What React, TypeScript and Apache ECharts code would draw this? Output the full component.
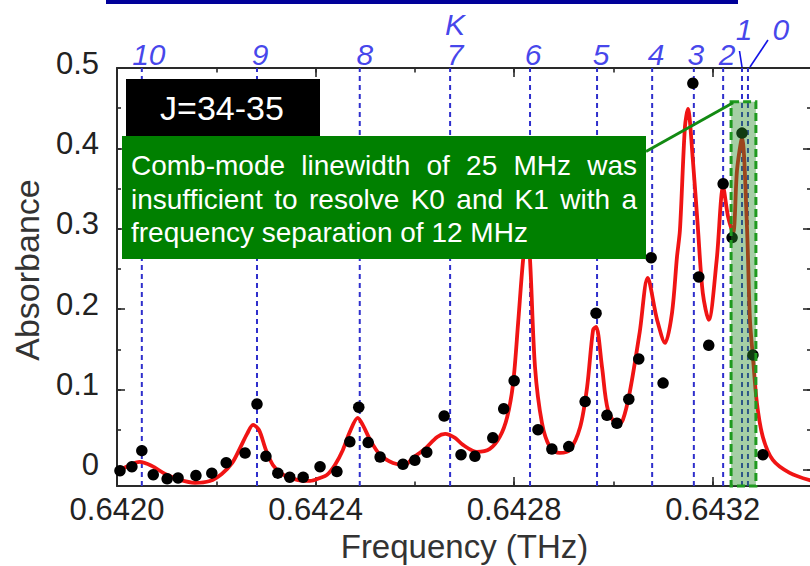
import React, { useEffect, useRef } from "react";
import * as echarts from "echarts";

const FONT = '"Liberation Sans", Arial, Helvetica, sans-serif';

// ---- axis ranges ----
const xMin = 0.642;
const xMax = 0.6434;
const xMajorStep = 0.0004;
const xMinorStep = 0.0002;
const yMin = -0.02;
const yMax = 0.5;

// ---- texts ----
const xAxisTitle = "Frequency (THz)";
const yAxisTitle = "Absorbance";
const panelTitle = "J=34-35";
const kHeader = "K";
const noteLines = [
  "Comb-mode linewidth of 25 MHz was",
  "insufficient to resolve K0 and K1 with a",
  "frequency separation of 12 MHz",
];

// ---- K components (line positions, THz) ----
const kLabels = ["10", "9", "8", "7", "6", "5", "4", "3", "2", "1", "0"];
const kFreqs = [
  0.64205, 0.642282, 0.642489, 0.642671, 0.642832, 0.642967, 0.643078,
  0.643162, 0.643221, 0.643259, 0.643271,
];

// ---- measured points ----
const dotFreqs = [
  0.642006, 0.64203, 0.64205, 0.642073, 0.642101, 0.642123, 0.642159,
  0.642191, 0.64222, 0.642258, 0.642282, 0.6423, 0.642324, 0.642348,
  0.642375, 0.642409, 0.642443, 0.642469, 0.642487, 0.642506, 0.64253,
  0.642576, 0.6426, 0.642624, 0.642659, 0.642693, 0.642721, 0.642757,
  0.642779, 0.6428, 0.642826, 0.642848, 0.642876, 0.64291, 0.642943,
  0.642965, 0.642987, 0.643007, 0.643031, 0.643051, 0.643076, 0.6431,
  0.64316, 0.643172, 0.643192, 0.643221, 0.643239, 0.643259, 0.643281,
  0.643301,
];
const dotAbs = [
  -0.001, 0.004, 0.024, -0.006, -0.011, -0.01, -0.007, -0.004, 0.009, 0.021,
  0.082, 0.017, -0.004, -0.009, -0.009, 0.004, -0.002, 0.035, 0.078, 0.034,
  0.016, 0.007, 0.012, 0.022, 0.067, 0.019, 0.017, 0.04, 0.076, 0.111, 0.283,
  0.05, 0.026, 0.029, 0.085, 0.195, 0.068, 0.058, 0.088, 0.138, 0.264, 0.108,
  0.481, 0.24, 0.155, 0.356, 0.289, 0.419, 0.143, 0.019,
];

// ---- fitted curve ----
const fitFreqs = [
  0.642, 0.642022, 0.642046, 0.64207, 0.642097, 0.642127, 0.642157, 0.642187,
  0.642211, 0.642232, 0.642248, 0.642262, 0.642274, 0.642286, 0.6423,
  0.642314, 0.642332, 0.642363, 0.642389, 0.642409, 0.642423, 0.642439,
  0.642455, 0.642469, 0.642485, 0.642495, 0.64251, 0.64253, 0.642556, 0.64258,
  0.642596, 0.64262, 0.642645, 0.642661, 0.642681, 0.642697, 0.642725,
  0.642751, 0.642771, 0.642786, 0.642798, 0.642808, 0.642818, 0.642826,
  0.642832, 0.642842, 0.642856, 0.642872, 0.642892, 0.642912, 0.642933,
  0.642947, 0.642959, 0.642965, 0.642977, 0.642989, 0.643009, 0.643019,
  0.643033, 0.643053, 0.643069, 0.643088, 0.643104, 0.643118, 0.643128,
  0.643134, 0.643144, 0.64315, 0.64316, 0.64317, 0.64318, 0.643192, 0.643208,
  0.643221, 0.643231, 0.643241, 0.643249, 0.643259, 0.643269, 0.643275,
  0.643281, 0.643289, 0.643301, 0.643321, 0.643355, 0.6434,
];
const fitAbs = [
  -0.0025, 0.005, 0.01, 0.005, -0.005, -0.0124, -0.016, -0.0137, -0.005,
  0.0087, 0.0274, 0.0448, 0.056, 0.0498, 0.0249, 0.0062, -0.005, -0.0124,
  -0.0137, -0.01, -0.0062, 0.0062, 0.0249, 0.0473, 0.0647, 0.056, 0.0373,
  0.0187, 0.0087, 0.0062, 0.0149, 0.0261, 0.041, 0.0448, 0.0398, 0.0311,
  0.0224, 0.0261, 0.041, 0.0659, 0.1082, 0.1828, 0.2612, 0.2998, 0.2612,
  0.1281, 0.0585, 0.0286, 0.0211, 0.0249, 0.0535, 0.1032, 0.1741, 0.1779,
  0.1281, 0.0746, 0.056, 0.0622, 0.097, 0.1716, 0.2388, 0.1866, 0.158,
  0.1953, 0.2649, 0.2985, 0.4266, 0.449, 0.3856, 0.3022, 0.2201, 0.1866,
  0.2612, 0.352, 0.3147, 0.2948, 0.3731, 0.4129, 0.3022, 0.1866, 0.1405,
  0.0833, 0.041, 0.0124, -0.0037, -0.0137,
];

// ---- highlighted unresolved K0/K1 region ----
const highlightFreqs = [0.643237, 0.643287];
const highlightAbs = [0.458, -0.021];

// ---- styles / layout (not data) ----
const CHART_W = 830;
const CHART_H = 566;
const GRID = { left: 117, top: 68, right: 18, bottom: 80 };
const kLabelOffsets: [number, number][] = [
  [7, -14], [3, -14], [5, -14], [5, -14], [3, -14], [4, -14], [4, -14],
  [2, -14], [4, -14], [2, -39], [33, -39],
];
const kHeaderOffset: [number, number] = [5, -44];
const leaderLines: { k: number; from: [number, number]; to: [number, number] }[] = [
  { k: 9, from: [0, -1], to: [-2.5, -17] },
  { k: 10, from: [2, -1], to: [20, -28] },
];
const BLUE = "#1414e6";
const DASH_BLUE = "#2f2fcc";
const AXIS_COLOR = "#2a2a2a";

export default function App() {
  const ref = useRef<HTMLDivElement>(null);

  useEffect(() => {
    if (!ref.current) return;
    const chart = echarts.init(ref.current, null, { renderer: "svg" });

    const tickStyle = { color: AXIS_COLOR, width: 1.6 };
    const lineStyle = { color: AXIS_COLOR, width: 2 };
    const baseX = {
      type: "value" as const,
      min: xMin,
      max: xMax,
      splitLine: { show: false },
    };
    const baseY = {
      type: "value" as const,
      min: yMin,
      max: yMax,
      splitLine: { show: false },
    };

    const labelData = kFreqs.map((f, i) => ({
      name: kLabels[i],
      value: [f, yMax],
      label: { offset: kLabelOffsets[i] },
    }));
    labelData.push({
      name: kHeader,
      value: [kFreqs[3], yMax],
      label: { offset: kHeaderOffset },
    });

    // vertical K guide lines: one segment per K, separated by gaps
    const kLineData: any[] = [];
    kFreqs.forEach((f) => {
      kLineData.push([f, yMin], [f, yMax], [f, "-"]);
    });

    const option: any = {
      animation: false,
      backgroundColor: "#ffffff",
      grid: [
        { ...GRID, containLabel: false, outerBoundsMode: "none" },
        { ...GRID, containLabel: false, outerBoundsMode: "none" },
      ],
      xAxis: [
        {
          ...baseX,
          gridIndex: 0,
          position: "bottom",
          interval: xMajorStep,
          axisLine: { show: true, onZero: false, lineStyle },
          axisTick: { show: true, inside: true, length: 9, lineStyle: tickStyle },
          axisLabel: {
            show: true,
            margin: 8,
            fontSize: 31,
            fontFamily: FONT,
            color: "#222",
            showMinLabel: true,
            showMaxLabel: false,
            formatter: (v: number) => v.toFixed(4),
          },
          name: xAxisTitle,
          nameLocation: "middle",
          nameGap: 44,
          nameTextStyle: { fontSize: 33, fontFamily: FONT, color: "#333" },
        },
        {
          ...baseX,
          gridIndex: 0,
          position: "top",
          interval: xMajorStep,
          axisLine: { show: true, onZero: false, lineStyle },
          axisTick: { show: true, inside: true, length: 9, lineStyle: tickStyle },
          axisLabel: { show: false },
        },
        {
          ...baseX,
          gridIndex: 1,
          position: "bottom",
          interval: xMinorStep,
          axisLine: { show: false, onZero: false },
          axisTick: { show: true, inside: true, length: 4.5, lineStyle: tickStyle },
          axisLabel: { show: false },
        },
        {
          ...baseX,
          gridIndex: 1,
          position: "top",
          interval: xMinorStep,
          axisLine: { show: false, onZero: false },
          axisTick: { show: true, inside: true, length: 4.5, lineStyle: tickStyle },
          axisLabel: { show: false },
        },
      ],
      yAxis: [
        {
          ...baseY,
          gridIndex: 0,
          position: "left",
          splitNumber: 5,
          axisLine: { show: true, onZero: false, lineStyle },
          axisTick: { show: true, inside: true, length: 8, lineStyle: tickStyle },
          axisLabel: {
            show: true,
            margin: 18,
            fontSize: 31,
            fontFamily: FONT,
            color: "#222",
            showMinLabel: false,
            showMaxLabel: true,
            verticalAlign: "bottom",
            lineHeight: 10,
            formatter: (v: number) => (Math.abs(v) < 1e-9 ? "0" : v.toFixed(1)),
          },
          name: yAxisTitle,
          nameLocation: "middle",
          nameGap: 73,
          nameTextStyle: {
            fontSize: 34,
            fontFamily: FONT,
            color: "#333",
            padding: [0, 0, 0, 14],
          },
        },
        {
          ...baseY,
          gridIndex: 0,
          position: "right",
          splitNumber: 5,
          axisLine: { show: true, onZero: false, lineStyle },
          axisTick: { show: true, inside: true, length: 9, lineStyle: tickStyle },
          axisLabel: { show: false },
        },
        {
          ...baseY,
          gridIndex: 1,
          position: "left",
          splitNumber: 10,
          axisLine: { show: false, onZero: false },
          axisTick: { show: true, inside: true, length: 4, lineStyle: tickStyle },
          axisLabel: { show: false },
        },
        {
          ...baseY,
          gridIndex: 1,
          position: "right",
          splitNumber: 10,
          axisLine: { show: false, onZero: false },
          axisTick: { show: true, inside: true, length: 5, lineStyle: tickStyle },
          axisLabel: { show: false },
        },
      ],
      series: [
        {
          name: "K lines",
          type: "line",
          xAxisIndex: 0,
          yAxisIndex: 0,
          data: kLineData,
          showSymbol: false,
          symbol: "none",
          connectNulls: false,
          lineStyle: { color: DASH_BLUE, width: 2, type: [5, 4] },
          z: 1,
          silent: true,
        },
        {
          name: "fit",
          type: "line",
          xAxisIndex: 0,
          yAxisIndex: 0,
          data: fitFreqs.map((f, i) => [f, fitAbs[i]]),
          showSymbol: false,
          symbol: "none",
          smooth: 0.3,
          lineStyle: { color: "#f01414", width: 3.8 },
          z: 2,
          silent: true,
        },
        {
          name: "measured",
          type: "scatter",
          xAxisIndex: 0,
          yAxisIndex: 0,
          data: dotFreqs.map((f, i) => [f, dotAbs[i]]),
          symbol: "circle",
          symbolSize: 11.5,
          itemStyle: { color: "#000000", opacity: 1 },
          z: 3,
          silent: true,
        },
        {
          name: "K labels",
          type: "scatter",
          xAxisIndex: 0,
          yAxisIndex: 0,
          clip: false,
          silent: true,
          symbol: "circle",
          symbolSize: 1,
          itemStyle: { color: "rgba(0,0,0,0)" },
          z: 4,
          label: {
            show: true,
            position: "inside",
            formatter: "{b}",
            fontStyle: "italic",
            fontSize: 30,
            fontFamily: FONT,
            color: BLUE,
          },
          data: labelData,
          markArea: {
            silent: true,
            z: 10,
            itemStyle: {
              color: "rgba(40,140,40,0.42)",
              borderColor: "#1f9a1f",
              borderWidth: 3,
              borderType: [8, 4],
            },
            label: { show: false },
            data: [
              [
                { xAxis: highlightFreqs[0], yAxis: highlightAbs[0] },
                { xAxis: highlightFreqs[1], yAxis: highlightAbs[1] },
              ],
            ],
          },
        },
      ],
    };

    chart.setOption(option);

    // ----- annotations (graphic) -----
    const toPx = (v: [number, number]) =>
      chart.convertToPixel({ xAxisIndex: 0, yAxisIndex: 0 }, v) as number[];

    const ctx = document.createElement("canvas").getContext("2d")!;
    const noteFont = 28;
    ctx.font = `${noteFont}px "Liberation Sans"`;
    const noteLeft = 131;
    const noteRight = 637;
    const noteYs = [165, 199, 232];

    const graphics: any[] = [];
    const textStyle = (text: string, size: number, fill: string, align = "left") => ({
      text,
      fill,
      fontSize: size,
      fontFamily: FONT,
      align,
      verticalAlign: "middle",
      textAlign: align,
      textVerticalAlign: "middle",
    });

    // top navy bar
    graphics.push({
      type: "rect",
      z: 100,
      shape: { x: 106, y: 0, width: 632, height: 4 },
      style: { fill: "#000099" },
    });
    // J box
    graphics.push({
      type: "rect",
      z: 100,
      shape: { x: 126, y: 79, width: 194, height: 58 },
      style: { fill: "#000000" },
    });
    graphics.push({
      type: "text",
      z: 101,
      x: 222,
      y: 108,
      style: textStyle(panelTitle, 34, "#ffffff", "center"),
    });
    // green note box
    graphics.push({
      type: "rect",
      z: 102,
      shape: { x: 122, y: 136, width: 524, height: 123 },
      style: { fill: "#008000" },
    });
    noteLines.forEach((line, li) => {
      const y = noteYs[li];
      if (li === noteLines.length - 1) {
        graphics.push({
          type: "text",
          z: 103,
          x: noteLeft,
          y,
          style: textStyle(line, noteFont, "#ffffff"),
        });
        return;
      }
      const words = line.split(" ");
      const widths = words.map((w) => ctx.measureText(w).width);
      const total = widths.reduce((a, b) => a + b, 0);
      const gap = (noteRight - noteLeft - total) / (words.length - 1);
      let x = noteLeft;
      words.forEach((w, wi) => {
        graphics.push({
          type: "text",
          z: 103,
          x,
          y,
          style: textStyle(w, noteFont, "#ffffff"),
        });
        x += widths[wi] + gap;
      });
    });
    // connector from note box to highlighted region
    const hlTopLeft = toPx([highlightFreqs[0], highlightAbs[0]]);
    graphics.push({
      type: "line",
      z: 102,
      shape: { x1: 646, y1: 151.5, x2: hlTopLeft[0] + 2, y2: hlTopLeft[1] + 1 },
      style: { stroke: "#138a13", lineWidth: 3 },
    });
    // K label leader lines
    leaderLines.forEach((ll) => {
      const p = toPx([kFreqs[ll.k], yMax]);
      graphics.push({
        type: "line",
        z: 100,
        shape: {
          x1: p[0] + ll.from[0],
          y1: p[1] + ll.from[1],
          x2: p[0] + ll.to[0],
          y2: p[1] + ll.to[1],
        },
        style: { stroke: BLUE, lineWidth: 1.6 },
      });
    });

    chart.setOption({ graphic: graphics });

    return () => chart.dispose();
  }, []);

  return (
    <div
      style={{
        position: "fixed",
        left: 0,
        top: 0,
        width: 810,
        height: 566,
        overflow: "hidden",
        background: "#ffffff",
      }}
    >
      <div ref={ref} style={{ width: CHART_W, height: CHART_H }} />
    </div>
  );
}
